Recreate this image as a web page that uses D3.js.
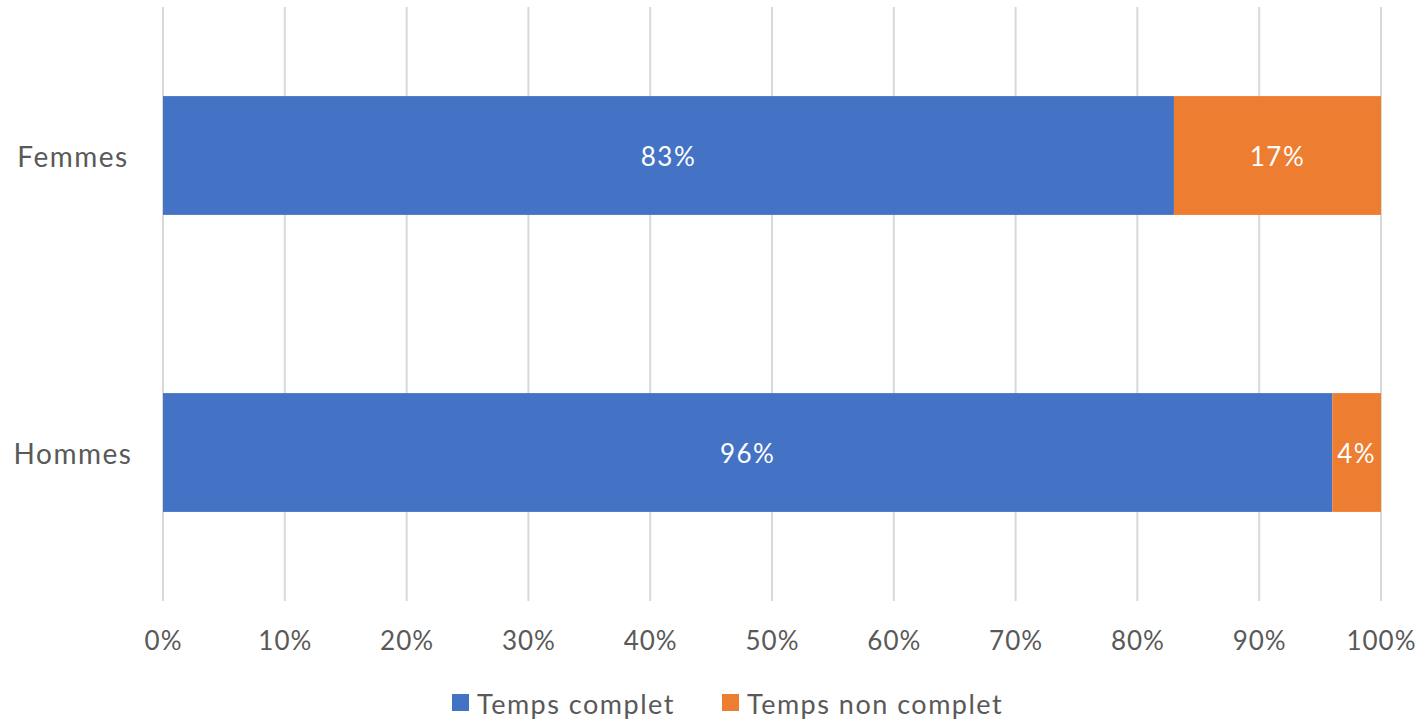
<!DOCTYPE html>
<html><head><meta charset="utf-8">
<script src="https://cdn.jsdelivr.net/npm/d3@7"></script>
<style>body{margin:0;background:#fff}svg{display:block}text{font-family:Lato,"Open Sans",sans-serif;fill:#595959}</style>
</head><body><svg id="c" width="1422" height="721"></svg>
<script>
const categories = ["Femmes", "Hommes"];
const seriesNames = ["Temps complet", "Temps non complet"];
const tempsComplet = [83, 96];
const tempsNonComplet = [17, 4];
const tickValues = [0,10,20,30,40,50,60,70,80,90,100];
const colors = ["#4472C4", "#ED7D31"];

const svg = d3.select("#c");
const x = d3.scaleLinear().domain([0,100]).range([163,1381]);
const y = d3.scaleBand().domain(categories).range([7,601]).paddingInner(0.6).paddingOuter(0.3);

// gridlines
svg.append("g").selectAll("line").data(tickValues).join("line")
  .attr("x1", d=>x(d)).attr("x2", d=>x(d)).attr("y1", 7).attr("y2", 601)
  .attr("stroke", "#d9d9d9").attr("stroke-width", 2);

const data = categories.map((c,i)=>({cat:c, vals:[tempsComplet[i], tempsNonComplet[i]]}));
const stacked = [];
data.forEach(d=>{ let acc=0; d.vals.forEach((v,k)=>{ stacked.push({cat:d.cat, k, x0:acc, x1:acc+v, v}); acc+=v; }); });

svg.append("g").selectAll("rect").data(stacked).join("rect")
  .attr("x", d=>x(d.x0)).attr("width", d=>x(d.x1)-x(d.x0))
  .attr("y", d=>y(d.cat)).attr("height", y.bandwidth())
  .attr("fill", d=>colors[d.k]);

svg.append("g").selectAll("text").data(stacked).join("text")
  .attr("x", d=>(x(d.x0)+x(d.x1))/2).attr("y", d=>y(d.cat)+y.bandwidth()/2)
  .attr("text-anchor","middle").attr("dominant-baseline","central")
  .style("fill","#fff").style("font-size","26px").style("letter-spacing","1.5px").text(d=>d.v+"%");

// category labels
svg.append("g").selectAll("text").data(categories).join("text")
  .attr("x", 73).attr("y", d=>y(d)+y.bandwidth()/2)
  .attr("text-anchor","middle").attr("dominant-baseline","central")
  .style("font-size","28px").style("letter-spacing","1.5px").text(d=>d);

// x axis labels
const ax = svg.append("g").attr("transform","translate(0,641)")
  .call(d3.axisBottom(x).tickValues(tickValues).tickFormat(d=>d+"%").tickSize(0).tickPadding(0));
ax.select(".domain").remove();
ax.selectAll("text").style("font-size","26px").style("letter-spacing","1px").style("fill","#595959").attr("font-family",null).attr("dy","0.35em").attr("y",0);

// legend
const leg = svg.append("g");
const legX = [452, 722];
seriesNames.forEach((s,i)=>{
  leg.append("rect").attr("x", legX[i]).attr("y", 694).attr("width",17).attr("height",17).attr("fill",colors[i]);
  leg.append("text").attr("x", legX[i]+25).attr("y", 703).attr("dominant-baseline","central").style("font-size","27px").style("letter-spacing","1.5px").text(s);
});
</script></body></html>
